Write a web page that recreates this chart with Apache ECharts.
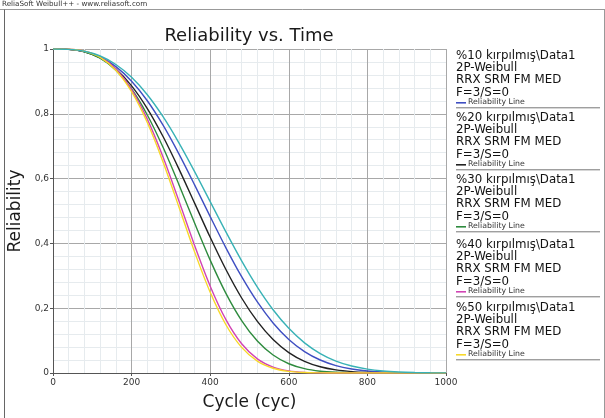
<!DOCTYPE html>
<html>
<head>
<meta charset="utf-8">
<script src="https://cdn.jsdelivr.net/npm/echarts@6/dist/echarts.min.js"></script>
<style>
html,body{margin:0;padding:0;background:#fff;}
#chart{width:605px;height:418px;}
</style>
</head>
<body>
<div id="chart"></div>
<script>
// Cycle values (x) at which the curves were read
const cycles = [0,40,80,120,160,200,240,280,320,360,400,440,480,520,560,600,640,680,720,760,800,840,880,920,960,1000];
// Reliability values
const rel10 = [1,0.9988,0.9920,0.9753,0.9456,0.9007,0.8402,0.7648,0.6772,0.5815,0.4828,0.3864,0.2973,0.2192,0.1545,0.1037,0.0662,0.0401,0.0229,0.0124,0.0063,0.0030,0.0013,0.0006,0.0002,0.0001];
const rel20 = [1,0.9988,0.9912,0.9723,0.9381,0.8863,0.8163,0.7299,0.6309,0.5250,0.4189,0.3193,0.2315,0.1592,0.1033,0.0631,0.0361,0.0193,0.0096,0.0044,0.0019,0.0007,0.0003,0.0001,0,0];
const rel30 = [1,0.9989,0.9916,0.9719,0.9347,0.8765,0.7964,0.6965,0.5829,0.4637,0.3484,0.2457,0.1617,0.0986,0.0554,0.0285,0.0133,0.0056,0.0021,0.0007,0.0002,0.0001,0,0,0,0];
const rel40 = [1,0.9993,0.9935,0.9755,0.9380,0.8749,0.7835,0.6664,0.5323,0.3946,0.2680,0.1647,0.0904,0.0437,0.0184,0.0066,0.0020,0.0005,0.0001,0,0,0,0,0,0,0];
const rel50 = [1,0.9993,0.9932,0.9742,0.9346,0.8683,0.7729,0.6515,0.5139,0.3746,0.2490,0.1489,0.0790,0.0367,0.0147,0.0050,0.0014,0.0003,0.0001,0,0,0,0,0,0,0];
const relExtra = [1,0.9990,0.9930,0.9784,0.9522,0.9126,0.8587,0.7910,0.7112,0.6225,0.5290,0.4354,0.3461,0.2652,0.1953,0.1379,0.0931,0.0600,0.0368,0.0215,0.0119,0.0062,0.0031,0.0014,0.0006,0.0003];

const xTicks = [0,200,400,600,800,1000];
const yTicks = [0,0.2,0.4,0.6,0.8,1];

const legendNames = ['%10 kırpılmış\\Data1','%20 kırpılmış\\Data1','%30 kırpılmış\\Data1','%40 kırpılmış\\Data1','%50 kırpılmış\\Data1'];
const legendSub = ['2P-Weibull','RRX SRM FM MED','F=3/S=0'];
const legendLine = 'Reliability Line';

const colors = ['#3f4fc2','#222222','#2e8b3e','#d144b4','#f7d82a','#38b2b6'];
const seriesData = [rel10, rel20, rel30, rel40, rel50, relExtra];

const chart = echarts.init(document.getElementById('chart'));

const series = seriesData.map((arr, i) => ({
  type: 'line',
  data: cycles.map((c, j) => [c, arr[j]]),
  smooth: 0.3,
  showSymbol: false,
  lineStyle: {color: colors[i], width: 1.4},
  itemStyle: {color: colors[i]},
  z: 2 + i,
  silent: true
}));

const graphics = [];
graphics.push({type:'text', left: 2, top: 1, style:{text:'ReliaSoft Weibull++ - www.reliasoft.com', fontSize: 7.2, fontFamily:'DejaVu Sans', fill:'#333'}});
graphics.push({type:'line', shape:{x1:0,y1:9.5,x2:605,y2:9.5}, style:{stroke:'#999', lineWidth:1}});
graphics.push({type:'line', shape:{x1:4.5,y1:9.5,x2:4.5,y2:418}, style:{stroke:'#666', lineWidth:1}});
graphics.push({type:'line', shape:{x1:604.5,y1:9.5,x2:604.5,y2:418}, style:{stroke:'#999', lineWidth:1}});
graphics.push({type:'text', x: 249, y: 36, style:{text:'Reliability vs. Time', fontSize: 18, fontFamily:'DejaVu Sans', fill:'#1a1a1a', align:'center', verticalAlign:'middle'}});
const entryTops = [50, 112, 174, 239, 302];
legendNames.forEach((name, i) => {
  const y0 = entryTops[i];
  const lines = [name].concat(legendSub);
  lines.forEach((t, k) => {
    graphics.push({type:'text', left: 456, top: y0 + k * 12.2, style:{text: t, fontSize: 11.8, fontFamily:'DejaVu Sans', fill:'#111'}});
  });
  const ly = y0 + 4 * 12.2 + 4;
  graphics.push({type:'line', shape:{x1:456,y1:ly,x2:466,y2:ly}, style:{stroke: colors[i], lineWidth: 1.6}});
  graphics.push({type:'text', left: 468, top: ly - 5, style:{text: legendLine, fontSize: 7.8, fontFamily:'DejaVu Sans', fill:'#333'}});
  graphics.push({type:'line', shape:{x1:456,y1:ly+5,x2:600,y2:ly+5}, style:{stroke:'#777', lineWidth:1}});
});

chart.setOption({
  animation: false,
  backgroundColor: '#fff',
  grid: {left: 53, top: 49, width: 393, height: 324, show: false, containLabel: false, outerBoundsMode: 'none'},
  xAxis: {
    type: 'value', min: 0, max: 1000, interval: 200,
    name: 'Cycle (cyc)', nameLocation: 'middle', nameGap: 21,
    nameTextStyle: {fontSize: 17, fontFamily: 'DejaVu Sans', color: '#1a1a1a'},
    axisLine: {show: true, onZero: false, lineStyle: {color: '#555', width: 1}},
    axisTick: {show: true, length: 3, lineStyle: {color: '#555'}},
    axisLabel: {fontSize: 9, fontFamily: 'DejaVu Sans', color: '#333', margin: 5,
      formatter: v => xTicks.indexOf(v) >= 0 ? String(v) : ''},
    splitLine: {show: true, lineStyle: {color: '#a8a8a8', width: 1}},
    minorTick: {show: false, splitNumber: 5},
    minorSplitLine: {show: true, lineStyle: {color: '#e6ebee', width: 1}}
  },
  yAxis: {
    type: 'value', min: 0, max: 1, interval: 0.2,
    name: 'Reliability', nameLocation: 'middle', nameGap: 25,
    nameTextStyle: {fontSize: 17, fontFamily: 'DejaVu Sans', color: '#1a1a1a'},
    axisLine: {show: true, lineStyle: {color: '#555', width: 1}},
    axisTick: {show: true, length: 3, lineStyle: {color: '#555'}},
    axisLabel: {fontSize: 9, fontFamily: 'DejaVu Sans', color: '#333', margin: 4,
      formatter: v => {
        const t = yTicks.find(y => Math.abs(y - v) < 1e-9);
        if (t === undefined) return '';
        return String(Math.round(t * 10) / 10).replace('.', ',');
      }},
    splitLine: {show: true, lineStyle: {color: '#a8a8a8', width: 1}},
    minorTick: {show: false, splitNumber: 5},
    minorSplitLine: {show: true, lineStyle: {color: '#e6ebee', width: 1}}
  },
  series: series,
  graphic: graphics
});
</script>
</body>
</html>
